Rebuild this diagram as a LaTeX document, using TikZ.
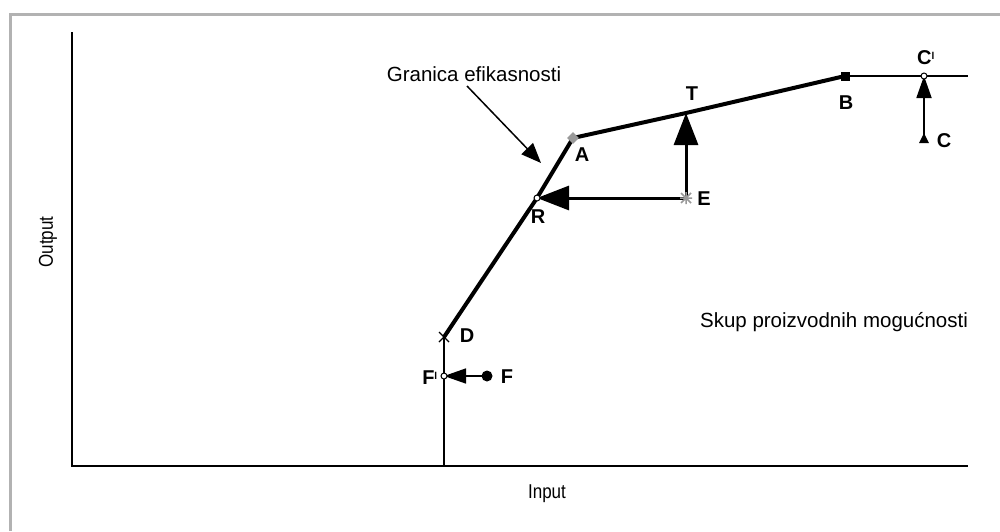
\documentclass[tikz,border=0pt]{standalone}
\usepackage{fontspec}
\setmainfont{Liberation Sans}
\usetikzlibrary{arrows.meta,shapes.geometric}
\begin{document}
\begin{tikzpicture}[x=1pt,y=-1pt,
  lbl/.style={font=\fontsize{20}{22}\selectfont\bfseries,inner sep=0pt},
  txt/.style={font=\fontsize{20.5}{23}\selectfont,inner sep=0pt},
  opencirc/.style={circle,draw=black,fill=white,line width=1pt,minimum size=6pt,inner sep=0pt},
  dot/.style={circle,fill=black,minimum size=11pt,inner sep=0pt},
  sq/.style={rectangle,fill=black,minimum size=9pt,inner sep=0pt},
  gdia/.style={diamond,fill=gray!80,minimum size=12pt,inner sep=0pt},
  tri/.style={isosceles triangle,shape border rotate=90,fill=black,minimum height=10pt,minimum width=10pt,isosceles triangle stretches,inner sep=0pt},
  pt/.style={inner sep=0pt,minimum size=0pt},
  bigarrow/.style={-{Triangle[length=32pt,width=24pt]}},
  midarrow/.style={-{Triangle[length=22pt,width=15pt]}},
  smallarrow/.style={-{Triangle[length=20pt,width=16pt]}}
]
\useasboundingbox (0,0) rectangle (1000,531);
\fill[white] (0,0) rectangle (1000,531);
% frame
\draw[gray!60,line width=3pt] (10,531) -- (10,14) -- (1000,14);
% axes
\coordinate (O) at (72,466);
\coordinate (Ytop) at (72,32);
\coordinate (Xend) at (968,466);
\draw[line width=2pt] (Ytop) -- (O) -- (Xend);
\node[inner sep=0pt,rotate=90] (out) at (48,242) {\fontsize{20}{22}\selectfont\scalebox{0.85}[1]{Output}};
\node[inner sep=0pt] (in) at (547,494) {\fontsize{20}{22}\selectfont\scalebox{0.85}[1]{Input}};
% points
\coordinate (Dbase) at (444,466);
\node[pt] (D) at (444,337) {};
\node[pt] (R0) at (537,198) {};
\node[pt] (A0) at (573,138) {};
\node[pt] (T0) at (686,113) {};
\node[pt] (B0) at (845,76) {};
\coordinate (Rend) at (968,76);
% vertical segment and frontier
\draw[line width=2pt] (Dbase) -- (D.center);
\draw[line width=4pt,line join=round] (D.center) -- (R0.center) -- (A0.center) -- (T0.center) -- (B0.center);
\draw[line width=2.5pt] (B0.center) -- (Rend);
% E arrows
\node[pt] (E) at (686,198) {};
\draw[line width=3pt,bigarrow] (E.center) -- (T0.center);
\draw[line width=3pt,bigarrow] (E.center) -- (R0.center);
% C arrow
\node[pt] (C) at (924,140) {};
\node[pt] (Cp) at (924,76) {};
\draw[line width=1.8pt,midarrow] (C.center) -- (Cp.center);
% F arrow
\node[pt] (F) at (487,376) {};
\node[pt] (Fp) at (444,376) {};
\draw[line width=1.5pt,midarrow] (F.center) -- (Fp.center);
% markers
\node[opencirc] (R) at (R0) {};
\node[gdia] (A) at (A0) {};
\node[sq] (B) at (B0) {};
\node[opencirc] (Cpm) at (Cp) {};
\node[tri] (Cm) at (C) {};
\node[dot] (Fm) at (F) {};
\node[opencirc] (Fpm) at (Fp) {};
\draw[black,line width=1.3pt] (439,332) -- (449,342) (439,342) -- (449,332);
\draw[gray!80,line width=1.5pt] (681,193) -- (691,203) (681,203) -- (691,193) (686,192) -- (686,204) (680,198) -- (692,198);
% labels
\node[lbl] (lA) at (582,155) {A};
\node[lbl] (lR) at (538,217) {R};
\node[lbl] (lT) at (692,94) {T};
\node[lbl] (lE) at (704,199) {E};
\node[lbl] (lB) at (846,103) {B};
\node[lbl] (lCp) at (926,58) {C\textsuperscript{\fontsize{10}{10}\selectfont\raisebox{-2pt}{l}}};
\node[lbl] (lC) at (944,141) {C};
\node[lbl] (lD) at (467,336) {D};
\node[lbl] (lFp) at (430,378) {F\textsuperscript{\fontsize{10}{10}\selectfont\raisebox{-2pt}{l}}};
\node[lbl] (lF) at (507,377) {F};
% texts
\node[txt] (gran) at (474,74) {Granica efikasnosti};
\coordinate (granTip) at (541,163);
\draw[line width=1.5pt,smallarrow] (467,86) -- (granTip);
\node[txt] (skup) at (834,322) {Skup proizvodnih mogućnosti};
\end{tikzpicture}
\end{document}
